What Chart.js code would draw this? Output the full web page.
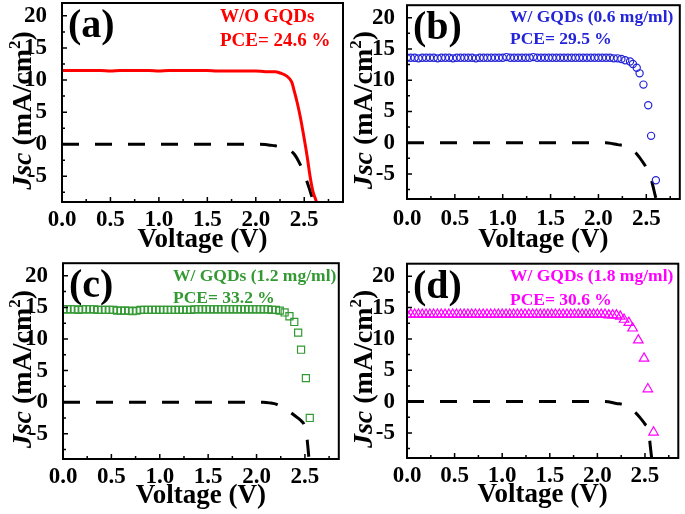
<!DOCTYPE html>
<html>
<head>
<meta charset="utf-8">
<script src="https://cdn.jsdelivr.net/npm/chart.js@4.4.1/dist/chart.umd.min.js"></script>
<style>
html, body { margin: 0; padding: 0; background: #fff; }
#wrap { position: relative; width: 685px; height: 514px; overflow: hidden; }
canvas { position: absolute; }
</style>
</head>
<body>
<div id="wrap">
    <canvas id="pA" width="345" height="257" style="left:0;top:0"></canvas>
    <canvas id="pB" width="340" height="257" style="left:345px;top:0"></canvas>
    <canvas id="pC" width="345" height="257" style="left:0;top:257px"></canvas>
    <canvas id="pD" width="340" height="257" style="left:345px;top:257px"></canvas>
</div>
<script>
// ── axis ticks ────────────────────────────────────────
const xTicks = [0, 0.5, 1, 1.5, 2, 2.5];
const yTicks = [-5, 0, 5, 10, 15, 20];

// ── (a) W/O GQDs, solid red line (V, mA/cm2) ──────────
const vA = [0, 0.1, 0.2, 0.3, 0.4, 0.5, 0.6, 0.7, 0.8, 0.9, 1.0, 1.1, 1.2, 1.3, 1.4, 1.5, 1.6, 1.7, 1.8, 1.9, 2.0, 2.1, 2.2,
            2.25, 2.32, 2.37, 2.40, 2.43, 2.46, 2.49, 2.53, 2.56, 2.59, 2.62, 2.65];
const jA = [11.5, 11.5, 11.5, 11.5, 11.5, 11.4, 11.5, 11.5, 11.5, 11.5, 11.4, 11.5, 11.5, 11.5, 11.5, 11.5, 11.4, 11.4, 11.4, 11.4, 11.4, 11.3, 11.3,
            11.1, 10.6, 9.7, 8.1, 6.3, 4.2, 1.7, -1.9, -5.0, -7.4, -8.7, -10.5];

// ── shared voltage grid for the flat part of (b)-(d) ──
const vGrid = [0, 0.04, 0.08, 0.12, 0.16, 0.2, 0.24, 0.28, 0.32, 0.36,
               0.4, 0.44, 0.48, 0.52, 0.56, 0.6, 0.64, 0.68, 0.72, 0.76,
               0.8, 0.84, 0.88, 0.92, 0.96, 1, 1.04, 1.08, 1.12, 1.16,
               1.2, 1.24, 1.28, 1.32, 1.36, 1.4, 1.44, 1.48, 1.52, 1.56,
               1.6, 1.64, 1.68, 1.72, 1.76, 1.8, 1.84, 1.88, 1.92, 1.96,
               2, 2.04, 2.08, 2.12, 2.16, 2.2];

// ── (b) 0.6 mg/ml, blue circles ───────────────────────
const jFlatB = [13.6, 13.6, 13.6, 13.5, 13.6, 13.6, 13.6, 13.6, 13.5, 13.6,
                13.6, 13.6, 13.5, 13.6, 13.6, 13.6, 13.6, 13.6, 13.5, 13.6,
                13.6, 13.6, 13.6, 13.6, 13.6, 13.6, 13.7, 13.6, 13.6, 13.6,
                13.6, 13.6, 13.6, 13.7, 13.6, 13.6, 13.6, 13.6, 13.6, 13.6,
                13.6, 13.6, 13.6, 13.6, 13.6, 13.6, 13.6, 13.6, 13.6, 13.6,
                13.6, 13.6, 13.6, 13.6, 13.5, 13.5];
const vTailB = [2.24, 2.28, 2.33, 2.36, 2.40, 2.43, 2.47, 2.52, 2.55, 2.60];
const jTailB = [13.4, 13.2, 13.0, 12.6, 12.0, 11.1, 9.3, 6.0, 1.1, -6.0];

// ── (c) 1.2 mg/ml, green squares ──────────────────────
const jFlatC = [14.7, 14.7, 14.7, 14.7, 14.6, 14.7, 14.7, 14.7, 14.7, 14.6,
                14.6, 14.6, 14.6, 14.6, 14.5, 14.5, 14.5, 14.5, 14.4, 14.5,
                14.6, 14.6, 14.6, 14.6, 14.6, 14.6, 14.6, 14.6, 14.6, 14.6,
                14.6, 14.6, 14.6, 14.6, 14.7, 14.7, 14.7, 14.7, 14.7, 14.7,
                14.7, 14.7, 14.7, 14.7, 14.7, 14.7, 14.7, 14.7, 14.7, 14.7,
                14.7, 14.7, 14.7, 14.7, 14.6, 14.6];
const vTailC = [2.24, 2.29, 2.34, 2.39, 2.43, 2.46, 2.51, 2.55];
const jTailC = [14.5, 14.2, 13.6, 12.7, 11.0, 8.3, 3.8, -2.5];

// ── (d) 1.8 mg/ml, magenta triangles ──────────────────
const jFlatD = [13.9, 13.9, 13.9, 13.9, 13.9, 13.9, 13.9, 13.9, 13.9, 13.9,
                13.9, 13.9, 13.9, 13.9, 13.9, 13.9, 13.9, 13.9, 13.9, 13.9,
                13.9, 13.9, 13.9, 13.9, 13.9, 13.9, 13.9, 13.9, 13.9, 13.9,
                13.9, 13.9, 13.9, 13.9, 13.9, 13.9, 13.9, 13.9, 13.9, 13.9,
                13.9, 13.9, 13.9, 13.9, 13.9, 13.9, 13.9, 13.9, 13.9, 13.9,
                13.9, 13.9, 13.9, 13.8, 13.8, 13.8];
const vTailD = [2.24, 2.28, 2.33, 2.37, 2.43, 2.49, 2.53, 2.59];
const jTailD = [13.6, 13.1, 12.6, 11.7, 9.8, 6.9, 2.0, -4.9];

// ── black dashed curves (one per panel) ───────────────
const vDarkA = [0, 0.5, 1, 1.5, 2, 2.1, 2.15, 2.2, 2.3, 2.35, 2.4, 2.45, 2.5, 2.55, 2.6, 2.63];
const jDarkA = [0, 0, 0, 0, 0, -0.05, -0.15, -0.25, -0.6, -0.9, -1.6, -2.9, -4.6, -6.8, -9.2, -10.5];
const vDarkB = [0, 0.5, 1, 1.5, 2, 2.08, 2.15, 2.2, 2.3, 2.35, 2.4, 2.45, 2.5, 2.55, 2.58, 2.61, 2.63];
const jDarkB = [0, 0, 0, 0, 0, 0, -0.15, -0.3, -0.6, -1.1, -1.8, -2.8, -4.0, -5.8, -7.6, -9.5, -10.5];
const vDarkC = [0, 0.5, 1, 1.5, 2, 2.07, 2.15, 2.2, 2.31, 2.35, 2.4, 2.45, 2.5, 2.52, 2.53, 2.545];
const jDarkC = [0, 0, 0, 0, 0, 0, -0.15, -0.3, -1.2, -1.6, -2.2, -2.8, -3.9, -5.5, -7.0, -9.5];
const vDarkD = [0, 0.5, 1, 1.5, 2, 2.07, 2.2, 2.3, 2.4, 2.45, 2.5, 2.54, 2.555, 2.57, 2.58];
const jDarkD = [0, 0, 0, 0, 0, 0, -0.3, -0.6, -1.75, -2.6, -3.6, -4.8, -7.0, -9.0, -10.5];

const SERIF = "'Liberation Serif', 'Times New Roman', serif";

function pts(xs, ys) {
    return xs.map((v, i) => ({ x: v, y: ys[i] }));
}

function dashed(xs, ys) {
    return {
        data: pts(xs, ys), showLine: true, pointRadius: 0,
        borderColor: '#000', borderWidth: 3, borderDash: [17, 16],
        cubicInterpolationMode: 'monotone', order: 2
    };
}

function markers(xs, ys, colour, style, r) {
    return {
        data: pts(xs, ys), showLine: false, pointStyle: style, pointRadius: r,
        borderColor: colour, backgroundColor: 'rgba(0,0,0,0)', pointBorderWidth: 1.2,
        order: 1
    };
}

// minor ticks halfway between majors (and one beyond each end)
function minors(t) {
    const out = [];
    const step = t[1] - t[0];
    out.push(t[0] - step / 2);
    t.forEach(v => out.push(v + step / 2));
    return out;
}

// ── frame, inward ticks, titles and annotations ──────
const decor = {
    id: 'decor',
    afterDatasetsDraw(chart, args, o) {
        const { ctx, chartArea: a, scales: { x, y } } = chart;
        ctx.save();
        ctx.strokeStyle = '#000';

        // inward ticks
        ctx.lineWidth = 1.5;
        ctx.beginPath();
        const tickX = (v, len) => {
            const px = x.getPixelForValue(v);
            if (px <= a.left + 1 || px >= a.right - 1) return;
            ctx.moveTo(px, a.bottom); ctx.lineTo(px, a.bottom - len);
        };
        const tickY = (v, len) => {
            const py = y.getPixelForValue(v);
            if (py <= a.top + 1 || py >= a.bottom - 1) return;
            ctx.moveTo(a.left, py); ctx.lineTo(a.left + len, py);
        };
        xTicks.forEach(v => tickX(v, 5));
        minors(xTicks).forEach(v => tickX(v, 3));
        yTicks.forEach(v => tickY(v, 5));
        minors(yTicks).forEach(v => tickY(v, 3));
        ctx.stroke();

        // frame
        ctx.lineWidth = 2;
        ctx.strokeRect(a.left, a.top, a.right - a.left, a.bottom - a.top);

        ctx.fillStyle = '#000';
        ctx.textBaseline = 'alphabetic';

        // x title
        ctx.font = 'bold 27px ' + SERIF;
        ctx.textAlign = 'center';
        ctx.fillText('Voltage (V)', (a.left + a.right) / 2, o.xTitleY);

        // y title: italic Jsc, unit with superscript 2
        ctx.textAlign = 'left';
        const big = 'bold 28px ' + SERIF;
        const ital = 'italic bold 28px ' + SERIF;
        const small = 'bold 17px ' + SERIF;
        const parts = [
            { t: 'Jsc', f: ital, dy: 0 },
            { t: ' (mA/cm', f: big, dy: 0 },
            { t: '2', f: small, dy: -11 },
            { t: ')', f: big, dy: 0 }
        ];
        let total = 0;
        parts.forEach(p => { ctx.font = p.f; p.w = ctx.measureText(p.t).width; total += p.w; });
        ctx.save();
        ctx.translate(a.left - o.yTitleX, (a.top + a.bottom) / 2 + 8);
        ctx.rotate(-Math.PI / 2);
        let cx = -total / 2;
        parts.forEach(p => {
            ctx.font = p.f;
            ctx.fillText(p.t, cx, p.dy);
            cx += p.w;
        });
        ctx.restore();

        // panel label
        ctx.font = 'bold 40px ' + SERIF;
        ctx.fillText(o.label, a.left + 6, a.top + 34);

        // sample text
        ctx.font = 'bold ' + o.textSize + 'px ' + SERIF;
        ctx.fillStyle = o.colour;
        ctx.fillText(o.lines[0], a.left + o.textX, a.top + o.textY[0]);
        ctx.fillText(o.lines[1], a.left + o.textX, a.top + o.textY[1]);

        ctx.restore();
    }
};

function makePanel(id, cfg) {
    const tickFont = { family: SERIF, size: 23, weight: 'bold' };
    return new Chart(document.getElementById(id), {
        type: 'scatter',
        data: { datasets: cfg.datasets },
        options: {
            responsive: false,
            animation: false,
            layout: { padding: { top: cfg.top, right: cfg.right, left: 0, bottom: 0 } },
            plugins: {
                legend: { display: false },
                tooltip: { enabled: false },
                decor: cfg.decor
            },
            scales: {
                x: {
                    type: 'linear', min: 0, max: cfg.xMax,
                    grid: { display: false }, border: { display: false },
                    ticks: { font: tickFont, color: '#000', padding: cfg.xPad, maxRotation: 0,
                             callback: v => v.toFixed(1) },
                    afterBuildTicks: s => { s.ticks = xTicks.map(v => ({ value: v })); },
                    afterFit: s => { s.height = cfg.xh; s.paddingLeft = 0; s.paddingRight = 0; }
                },
                y: {
                    min: -9, max: 22,
                    grid: { display: false }, border: { display: false },
                    ticks: { font: tickFont, color: '#000', padding: cfg.yPad,
                             callback: v => String(v) },
                    afterBuildTicks: s => { s.ticks = yTicks.map(v => ({ value: v })); },
                    afterFit: s => { s.width = cfg.left; s.paddingTop = 0; s.paddingBottom = 0; }
                }
            }
        },
        plugins: [decor]
    });
}

const RED = '#ff0000', BLUE = '#2424d8', GREEN = '#339933', MAGENTA = '#ff00ff';

makePanel('pA', {
    top: 3, right: 2, left: 62, xh: 55, xMax: 2.9, yPad: 7, xPad: -4,
    datasets: [
        dashed(vDarkA, jDarkA),
        { data: pts(vA, jA), showLine: true, pointRadius: 0, borderColor: RED, borderWidth: 3,
          cubicInterpolationMode: 'monotone', order: 1 }
    ],
    decor: { label: '(a)', colour: RED, lines: ['W/O GQDs', 'PCE= 24.6 %'],
             textX: 158, textY: [19, 43], textSize: 19, yTitleX: 31, xTitleY: 247 }
});

makePanel('pB', {
    top: 3, right: 5, left: 62, xh: 58, xMax: 2.85, yPad: 4, xPad: -2,
    datasets: [
        dashed(vDarkB, jDarkB),
        markers(vGrid.concat(vTailB), jFlatB.concat(jTailB), BLUE, 'circle', 3.6)
    ],
    decor: { label: '(b)', colour: BLUE, lines: ['W/ GQDs (0.6 mg/ml)', 'PCE= 29.5 %'],
             textX: 103, textY: [17, 39], textSize: 17.5, yTitleX: 35, xTitleY: 247 }
});

makePanel('pC', {
    top: 1, right: 2, left: 63, xh: 55, xMax: 2.85, yPad: 7, xPad: -4,
    datasets: [
        dashed(vDarkC, jDarkC),
        markers(vGrid.concat(vTailC), jFlatC.concat(jTailC), GREEN, 'rect', 5)
    ],
    decor: { label: '(c)', colour: GREEN, lines: ['W/ GQDs (1.2 mg/ml)', 'PCE= 33.2 %'],
             textX: 110, textY: [18, 40], textSize: 17.5, yTitleX: 32, xTitleY: 246 }
});

makePanel('pD', {
    top: 3, right: 3, left: 62, xh: 56, xMax: 2.85, yPad: 4, xPad: -4,
    datasets: [
        dashed(vDarkD, jDarkD),
        markers(vGrid.concat(vTailD), jFlatD.concat(jTailD), MAGENTA, 'triangle', 5.5)
    ],
    decor: { label: '(d)', colour: MAGENTA, lines: ['W/ GQDs (1.8 mg/ml)', 'PCE= 30.6 %'],
             textX: 103, textY: [17, 41], textSize: 17.5, yTitleX: 35, xTitleY: 245 }
});
</script>
</body>
</html>
